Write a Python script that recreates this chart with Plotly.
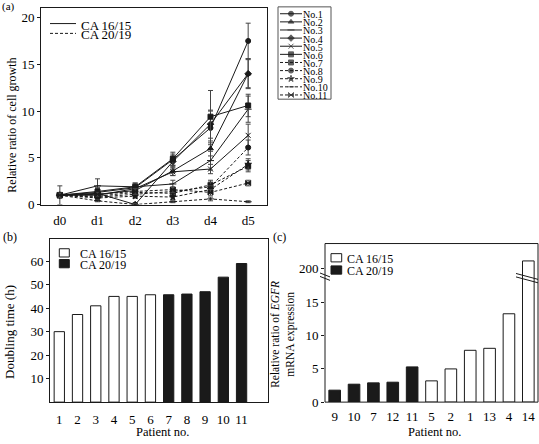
import plotly.graph_objects as go

# ---------------- data ----------------
days = ["d0", "d1", "d2", "d3", "d4", "d5"]
patient_labels = ["No.1", "No.2", "No.3", "No.4", "No.5", "No.6",
                  "No.7", "No.8", "No.9", "No.10", "No.11"]
patient_group = ["CA 16/15"] * 6 + ["CA 20/19"] * 5

growth_no1 = [1.0, 1.3, 1.8, 4.8, 8.2, 17.5]
growth_no2 = [1.0, 1.1, 1.5, 3.6, 6.0, 14.0]
growth_no3 = [1.0, 2.0, 1.9, 2.2, 4.7, 10.2]
growth_no4 = [1.0, 1.2, 0.0, 4.6, 8.6, 14.0]
growth_no5 = [1.0, 1.0, 1.7, 3.5, 3.8, 7.4]
growth_no6 = [1.0, 1.4, 1.9, 4.9, 9.4, 10.6]
growth_no7 = [1.0, 0.9, 1.3, 1.2, 2.1, 4.1]
growth_no8 = [1.0, 0.8, 1.1, 1.4, 1.9, 6.1]
growth_no9 = [1.0, 0.7, 0.9, 0.8, 1.6, 4.3]
growth_no10 = [1.0, 0.4, 0.0, 0.3, 0.6, 0.3]
growth_no11 = [1.0, 1.1, 1.4, 1.6, 1.3, 2.3]

err_no1 = [0.3, 0.4, 0.4, 0.6, 1.8, 1.9]
err_no2 = [0.2, 0.3, 0.3, 0.5, 0.8, 1.6]
err_no3 = [1.0, 0.75, 0.4, 0.4, 1.0, 1.4]
err_no4 = [0.2, 0.3, 0.2, 0.6, 1.5, 1.5]
err_no5 = [0.2, 0.3, 0.3, 0.4, 0.5, 1.2]
err_no6 = [0.2, 0.4, 0.4, 0.7, 2.8, 1.2]
err_no7 = [0.2, 0.2, 0.3, 0.3, 0.5, 0.6]
err_no8 = [0.2, 0.2, 0.3, 0.3, 0.5, 0.8]
err_no9 = [0.2, 0.2, 0.2, 0.3, 0.4, 0.6]
err_no10 = [0.2, 0.1, 0.1, 0.1, 0.2, 0.1]
err_no11 = [0.2, 0.2, 0.3, 0.3, 0.3, 0.3]

patients_b = [1, 2, 3, 4, 5, 6, 7, 8, 9, 10, 11]
doubling_time = [30.0, 37.3, 41.0, 45.0, 45.0, 45.7, 45.7, 46.0, 47.0, 53.2, 59.0]
group_b = ["CA 16/15"] * 6 + ["CA 20/19"] * 5

patients_c = ["9", "10", "7", "12", "11", "5", "2", "1", "13", "4", "14"]
egfr_ratio = [1.8, 2.7, 2.9, 3.0, 5.3, 3.2, 5.0, 7.8, 8.1, 13.3, 210.0]
group_c = ["CA 20/19"] * 5 + ["CA 16/15"] * 6

growth_all = [growth_no1, growth_no2, growth_no3, growth_no4, growth_no5, growth_no6,
              growth_no7, growth_no8, growth_no9, growth_no10, growth_no11]
err_all = [err_no1, err_no2, err_no3, err_no4, err_no5, err_no6,
           err_no7, err_no8, err_no9, err_no10, err_no11]

# ---------------- styles ----------------
W, H = 539, 444
FONT = "Liberation Serif"
INK = "#1a1a1a"
symbols = ["circle", "triangle-up", "line-ew", "diamond", "x-thin", "square",
           "square", "circle", "star", "line-ew", "bowtie"]
dash_for = {"CA 16/15": "solid", "CA 20/19": "3px,2px"}
fill_for = {"CA 16/15": "white", "CA 20/19": INK}


def px(x):
    return x / W


def py(y):
    return 1 - y / H


fig = go.Figure()

# ---- panel (a) lines ----
for i, lab in enumerate(patient_labels):
    fig.add_trace(go.Scatter(
        x=days, y=growth_all[i], mode="lines+markers", xaxis="x", yaxis="y",
        line=dict(color=INK, width=1, dash=dash_for[patient_group[i]]),
        marker=dict(symbol=symbols[i], size=5, color=INK, line=dict(color=INK, width=1)),
        error_y=dict(type="data", array=err_all[i], color="#444", thickness=1, width=2.5),
        showlegend=False, name=lab))

# ---- patient legend glyphs (hidden axis) ----
for i, lab in enumerate(patient_labels):
    fig.add_trace(go.Scatter(
        x=[0, 0.5, 1], y=[-i, -i, -i], mode="lines+markers", xaxis="x5", yaxis="y5",
        line=dict(color=INK, width=1, dash=dash_for[patient_group[i]]),
        marker=dict(symbol=symbols[i], size=[0, 5, 0], color=INK, line=dict(color=INK, width=1)),
        showlegend=False, hoverinfo="skip"))

# ---- panel (b) bars ----
for g in ["CA 16/15", "CA 20/19"]:
    xs = [p for p, gg in zip(patients_b, group_b) if gg == g]
    ys = [v for v, gg in zip(doubling_time, group_b) if gg == g]
    fig.add_trace(go.Bar(x=xs, y=ys, xaxis="x2", yaxis="y2", width=0.565,
                         marker=dict(color=fill_for[g], line=dict(color=INK, width=1)),
                         showlegend=False, name=g))

# ---- panel (c) bars (broken axis: lower + upper parts) ----
for yax in ["y3", "y4"]:
    for g in ["CA 20/19", "CA 16/15"]:
        xs = [p for p, gg in zip(patients_c, group_c) if gg == g]
        ys = [v for v, gg in zip(egfr_ratio, group_c) if gg == g]
        fig.add_trace(go.Bar(x=xs, y=ys, xaxis="x3", yaxis=yax, width=0.6,
                             marker=dict(color=fill_for[g], line=dict(color=INK, width=1)),
                             showlegend=False, name=g))

tickfont = dict(family=FONT, size=13, color="black")
common = dict(showgrid=False, zeroline=False, linecolor=INK, linewidth=1, tickfont=tickfont,
              ticks="outside", ticklen=3, tickcolor=INK)
xcommon = {**common, "ticks": ""}

fig.update_layout(
    width=W, height=H, autosize=False, margin=dict(l=0, r=0, t=0, b=0),
    paper_bgcolor="white", plot_bgcolor="white", showlegend=False, barmode="overlay",
    font=dict(family=FONT, size=12, color="black"),
    xaxis=dict(domain=[px(41), px(267)], anchor="y", range=[-0.5, 5.5], type="category",
               showline=True, mirror=True, ticklabelstandoff=4, **xcommon),
    yaxis=dict(domain=[py(208.3), py(8)], anchor="x", range=[0, 21.04],
               tickvals=[0, 5, 10, 15, 20], showline=True, mirror=True, **common),
    xaxis2=dict(domain=[px(50), px(268)], anchor="y2", range=[0.49, 12.45],
                tickvals=patients_b, showline=True, mirror=True, ticklabelstandoff=5, **xcommon),
    yaxis2=dict(domain=[py(409.5), py(243)], anchor="x2", range=[0, 69.6],
                tickvals=[10, 20, 30, 40, 50, 60], showline=True, mirror=True, **common),
    xaxis3=dict(domain=[px(325), px(538)], anchor="y3", range=[-0.5, 10.5], type="category",
                categoryorder="array", categoryarray=patients_c,
                showline=False, ticklabelstandoff=5, **xcommon),
    yaxis3=dict(domain=[py(409.5), py(282)], anchor="x3", range=[0, 18.85],
                tickvals=[0, 5, 10, 15], showline=False, **common),
    yaxis4=dict(domain=[py(282), py(248)], anchor="x3", range=[188.6, 233.3],
                tickvals=[200], showline=False, **common),
    xaxis5=dict(domain=[px(280), px(302)], anchor="y5", range=[0, 1], visible=False),
    yaxis5=dict(domain=[py(101), py(7)], anchor="x5", range=[-10.52, 0.846], visible=False),
)

shapes = []
annotations = []

# frame for panel (c)
shapes.append(dict(type="rect", xref="paper", yref="paper", x0=px(325), x1=px(538),
                   y0=py(409.5), y1=py(248), line=dict(color=INK, width=1)))
# break marks
for off in [0, 3.5]:
    shapes.append(dict(type="line", xref="paper", yref="paper", x0=px(320), x1=px(330),
                       y0=py(278 + off), y1=py(282 + off), line=dict(color=INK, width=1)))
    shapes.append(dict(type="line", xref="paper", yref="paper", x0=px(516), x1=px(538),
                       y0=py(278.5 + off), y1=py(284.5 + off), line=dict(color=INK, width=1)))
# patient legend box
shapes.append(dict(type="rect", xref="paper", yref="paper", x0=px(278), x1=px(331),
                   y0=py(101), y1=py(7), line=dict(color="#555", width=1)))
for i, lab in enumerate(patient_labels):
    annotations.append(dict(x=1, y=-i, xref="x5", yref="y5", text=lab, showarrow=False,
                            xanchor="left", yanchor="middle", xshift=-1, yshift=-1,
                            font=dict(family=FONT, size=10, color="black")))

# legend in (a)
for j, g in enumerate(["CA 16/15", "CA 20/19"]):
    yy = 24 + 10 * j
    shapes.append(dict(type="line", xref="paper", yref="paper", x0=px(50), x1=px(76),
                       y0=py(yy), y1=py(yy), line=dict(color=INK, width=1, dash=dash_for[g])))
    annotations.append(dict(x=px(79), y=py(yy + 1.5), xref="paper", yref="paper", text=g,
                            showarrow=False, xanchor="left", yanchor="middle",
                            font=dict(family=FONT, size=13, color="black")))
# legend in (b)
for j, g in enumerate(["CA 16/15", "CA 20/19"]):
    yc = 257.5 + 11 * j
    shapes.append(dict(type="rect", xref="paper", yref="paper", x0=px(59.3), x1=px(69.3),
                       y0=py(yc + 4.2), y1=py(yc - 4.2), fillcolor=fill_for[g],
                       line=dict(color=INK, width=1)))
    annotations.append(dict(x=px(78), y=py(yc + 1), xref="paper", yref="paper", text=g,
                            showarrow=False, xanchor="left", yanchor="middle",
                            font=dict(family=FONT, size=12, color="black")))
# legend in (c)
for j, g in enumerate(["CA 16/15", "CA 20/19"]):
    yc = 262.5 + 12.5 * j
    shapes.append(dict(type="rect", xref="paper", yref="paper", x0=px(331), x1=px(341.7),
                       y0=py(yc + 4.2), y1=py(yc - 4.2), fillcolor=fill_for[g],
                       line=dict(color=INK, width=1)))
    annotations.append(dict(x=px(345), y=py(yc + 1), xref="paper", yref="paper", text=g,
                            showarrow=False, xanchor="left", yanchor="middle",
                            font=dict(family=FONT, size=12, color="black")))

# titles & panel labels
def ann(x, y, text, size=12.5, angle=0, xanchor="center"):
    annotations.append(dict(x=px(x), y=py(y), xref="paper", yref="paper", text=text,
                            showarrow=False, textangle=angle, xanchor=xanchor, yanchor="middle",
                            font=dict(family=FONT, size=size, color="black")))

ann(12, 128, "Relative ratio of cell growth", size=12, angle=-90)
ann(10, 338, "Doubling time (h)", size=13, angle=-90)
ann(283, 341, "Relative ratio of <i>EGFR</i><br>mRNA expression", size=11.5, angle=-90)
ann(162, 440, "Patient no.", size=12.5)
ann(434, 440, "Patient no.", size=12.5)
ann(0, 7, "(a)", size=11, xanchor="left")
ann(1, 241, "(b)", size=12, xanchor="left")
ann(271, 241, "(c)", size=12, xanchor="left")

fig.update_layout(shapes=shapes, annotations=annotations)
fig.write_html(
    "out.html",
    config={"displayModeBar": False},
    post_script=("document.documentElement.style.margin='0';"
                 "document.documentElement.style.overflow='hidden';"
                 "document.body.style.margin='0';document.body.style.padding='0';"
                 "document.body.style.overflow='hidden';"),
)
